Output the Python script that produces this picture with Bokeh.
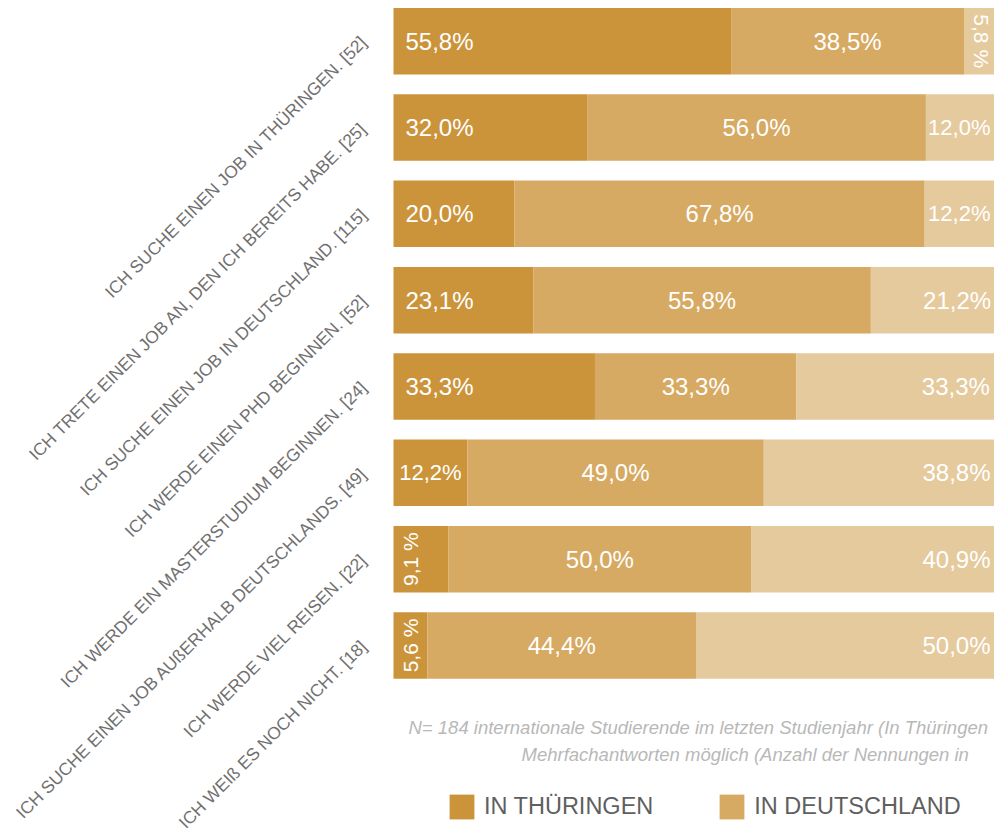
import math
from bokeh.plotting import figure
from bokeh.models import ColumnDataSource, Range1d, Label, Legend, LegendItem
from bokeh.core.properties import value, field
from bokeh.embed import file_html
from bokeh.resources import INLINE

# ---------------- data ----------------
categories = [
    "Ich suche einen Job in Thüringen. [52]",
    "Ich trete einen Job an, den ich bereits habe. [25]",
    "Ich suche einen Job in Deutschland. [115]",
    "Ich werde einen PhD beginnen. [52]",
    "Ich werde ein Masterstudium beginnen. [24]",
    "Ich suche einen Job außerhalb Deutschlands. [49]",
    "Ich werde viel reisen. [22]",
    "Ich weiß es noch nicht. [18]",
]
# only the first two legend entries are visible in the (cropped) reference
legend_names = ["In Thüringen", "In Deutschland"]
thueringen = [55.8, 32.0, 20.0, 23.1, 33.3, 12.2, 9.1, 5.6]
deutschland = [38.5, 56.0, 67.8, 55.8, 33.3, 49.0, 50.0, 44.4]
ausland = [5.8, 12.0, 12.2, 21.2, 33.3, 38.8, 40.9, 50.0]
# footnote as far as it is visible in the (cropped) reference
footnote_lines = [
    "N= 184 internationale Studierende im letzten Studienjahr (In Thüringen",
    "Mehrfachantworten möglich (Anzahl der Nennungen in",
]

colors = ["#CB943B", "#D6AA63", "#E5CA9D"]

W, H = 994, 834
X0_PX = 393.0
PX_PER_PCT = 6.05
ROW0_PX = 40.7
ROW_STEP = 86.33
FONT = "Liberation Sans"


def smallcaps(s):
    return "".join(c if c == "ß" else c.upper() for c in s)


def fmt(v, space=False):
    return f"{v:.1f}".replace(".", ",") + (" %" if space else "%")


p = figure(width=W, height=H, output_backend="svg", toolbar_location=None,
           x_axis_type=None, y_axis_type=None, min_border=0,
           x_range=Range1d(-X0_PX / PX_PER_PCT, (W - X0_PX) / PX_PER_PCT),
           y_range=Range1d((H - ROW0_PX) / ROW_STEP, -ROW0_PX / ROW_STEP))
p.outline_line_color = None
p.grid.visible = False
p.background_fill_color = "white"
p.border_fill_color = "white"

idx = list(range(len(categories)))
t_left = [0.0] * len(idx)
t_right = thueringen
d_left = thueringen
d_right = [a + b for a, b in zip(thueringen, deutschland)]
a_left = d_right
a_right = [a + b for a, b in zip(d_right, ausland)]

bar_h = 66.5 / ROW_STEP
renderers = []
for (l, r), c in zip([(t_left, t_right), (d_left, d_right), (a_left, a_right)], colors):
    src = ColumnDataSource(dict(y=idx, left=l, right=r))
    rr = p.hbar(y="y", left="left", right="right", height=bar_h, source=src,
                fill_color=c, line_color=None)
    renderers.append(rr)

# ---------------- value labels ----------------
lab = dict(x=[], y=[], text=[], angle=[], align=[], size=[], xo=[])
for i in idx:
    t, d, a = thueringen[i], deutschland[i], ausland[i]
    # Thüringen
    if t >= 15:
        lab["x"].append(0); lab["xo"].append(12); lab["align"].append("left")
        lab["angle"].append(0); lab["size"].append("24px"); lab["text"].append(fmt(t))
    elif t >= 10:
        lab["x"].append(t / 2); lab["xo"].append(0); lab["align"].append("center")
        lab["angle"].append(0); lab["size"].append("22px"); lab["text"].append(fmt(t))
    else:
        lab["x"].append(0); lab["xo"].append(17); lab["align"].append("center")
        lab["angle"].append(math.pi / 2); lab["size"].append("21px"); lab["text"].append(fmt(t, True))
    lab["y"].append(i)
    # Deutschland
    lab["x"].append(t + d / 2); lab["xo"].append(0); lab["align"].append("center")
    lab["angle"].append(0); lab["size"].append("24px"); lab["text"].append(fmt(d)); lab["y"].append(i)
    # Ausland
    if a >= 15:
        lab["x"].append(t + d + a); lab["xo"].append(-8); lab["align"].append("right")
        lab["angle"].append(0); lab["size"].append("24px"); lab["text"].append(fmt(a))
    elif a >= 10:
        lab["x"].append(t + d + a); lab["xo"].append(-8); lab["align"].append("right")
        lab["angle"].append(0); lab["size"].append("22px"); lab["text"].append(fmt(a))
    else:
        lab["x"].append(t + d + a / 2); lab["xo"].append(0); lab["align"].append("center")
        lab["angle"].append(-math.pi / 2); lab["size"].append("21px"); lab["text"].append(fmt(a, True))
    lab["y"].append(i)

p.text(x="x", y="y", text="text", angle="angle", x_offset="xo",
       text_align=field("align"), text_font_size=field("size"),
       text_baseline="middle", text_color="white",
       text_font=value(FONT), source=ColumnDataSource(lab))

# ---------------- category labels ----------------
cat_src = ColumnDataSource(dict(x=[0] * len(idx), y=idx,
                                text=[smallcaps(c) for c in categories]))
p.text(x="x", y="y", text="text", source=cat_src, angle=math.pi / 4,
       x_offset=-30, y_offset=-2, text_align="right", text_baseline="middle",
       text_font=value(FONT), text_font_size="17.4px",
       text_color="#707070")

# ---------------- footnote ----------------
for line, (lx, ly) in zip(footnote_lines, [(408, H - 727), (521, H - 754)]):
    p.add_layout(Label(x=lx, y=ly, x_units="screen", y_units="screen", text=line,
                       text_font=FONT, text_font_style="italic",
                       text_font_size="18.5px", text_color="#b8b8b8",
                       text_baseline="alphabetic"))

# ---------------- legend ----------------
legend = Legend(items=[LegendItem(label=smallcaps(n), renderers=[r])
                       for n, r in zip(legend_names, renderers)],
                orientation="horizontal", location=(446, H - 822),
                glyph_width=31, glyph_height=31, label_standoff=7, spacing=63,
                padding=0, margin=0, border_line_color=None,
                background_fill_alpha=0, label_text_font=FONT,
                label_text_font_size="23.5px", label_text_color="#5f5f5f",
                label_height=31)
p.add_layout(legend, "center")

open("out.html", "w").write(file_html(p, INLINE))
